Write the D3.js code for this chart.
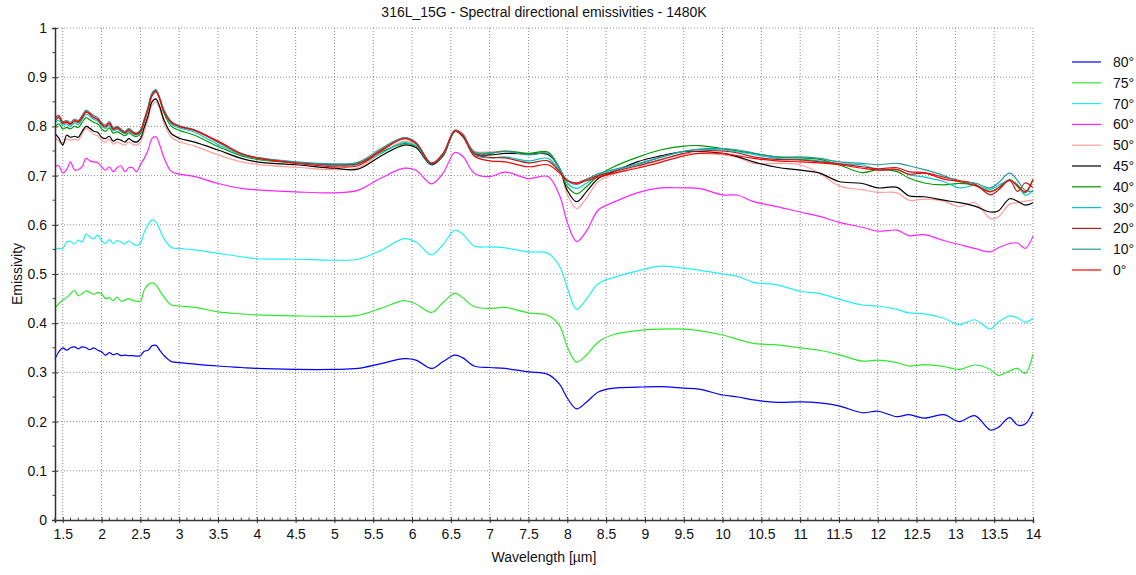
<!DOCTYPE html>
<html><head><meta charset="utf-8">
<script src="https://cdn.jsdelivr.net/npm/d3@7"></script>
<style>
body{margin:0;background:#fff;}
text{font-family:"Liberation Sans",Arial,sans-serif;fill:#111;}
</style></head>
<body><svg id="c" width="1136" height="575"></svg>
<script>
const title = "316L_15G - Spectral directional emissivities - 1480K";
const xLabel = "Wavelength [µm]";
const yLabel = "Emissivity";
const xTicks = [1.5,2,2.5,3,3.5,4,4.5,5,5.5,6,6.5,7,7.5,8,8.5,9,9.5,10,10.5,11,11.5,12,12.5,13,13.5,14];
const yTicks = [0,0.1,0.2,0.3,0.4,0.5,0.6,0.7,0.8,0.9,1];

const wavelength = [1.40,1.45,1.50,1.55,1.60,1.65,1.70,1.75,1.80,1.85,1.90,1.95,2.00,2.05,2.10,2.15,2.20,2.25,2.30,2.35,2.40,2.45,2.50,2.55,2.60,2.65,2.70,2.75,2.80,2.90,3.00,3.20,3.50,3.80,4.00,4.50,5.00,5.30,5.60,5.90,6.05,6.25,6.40,6.55,6.65,6.80,7.00,7.20,7.50,7.75,7.90,8.00,8.12,8.25,8.40,8.60,8.90,9.20,9.50,9.70,10.00,10.20,10.40,10.70,11.00,11.25,11.50,11.80,12.00,12.25,12.40,12.60,12.85,13.05,13.25,13.45,13.55,13.70,13.80,13.90,14.00];

const e80 = [0.327,0.342,0.350,0.345,0.350,0.352,0.348,0.352,0.350,0.346,0.350,0.345,0.342,0.335,0.340,0.336,0.338,0.334,0.335,0.334,0.334,0.333,0.334,0.343,0.345,0.354,0.355,0.345,0.335,0.322,0.320,0.317,0.313,0.310,0.308,0.306,0.306,0.308,0.318,0.328,0.325,0.308,0.322,0.335,0.330,0.313,0.310,0.308,0.301,0.296,0.276,0.248,0.226,0.240,0.260,0.268,0.270,0.271,0.268,0.266,0.254,0.250,0.244,0.239,0.240,0.238,0.232,0.218,0.221,0.210,0.214,0.207,0.214,0.200,0.212,0.183,0.188,0.208,0.193,0.195,0.220];
const e75 = [0.430,0.440,0.447,0.452,0.460,0.467,0.456,0.460,0.466,0.462,0.459,0.462,0.460,0.450,0.452,0.446,0.453,0.445,0.447,0.450,0.446,0.445,0.444,0.468,0.478,0.482,0.478,0.466,0.454,0.437,0.435,0.432,0.423,0.419,0.417,0.415,0.414,0.416,0.430,0.446,0.439,0.422,0.442,0.461,0.452,0.434,0.430,0.432,0.421,0.416,0.395,0.352,0.321,0.336,0.362,0.377,0.385,0.388,0.388,0.385,0.376,0.367,0.359,0.356,0.350,0.345,0.336,0.323,0.325,0.320,0.313,0.316,0.312,0.306,0.315,0.306,0.294,0.303,0.308,0.298,0.337];
const e70 = [0.550,0.552,0.552,0.565,0.566,0.561,0.569,0.565,0.581,0.575,0.572,0.579,0.568,0.562,0.570,0.562,0.568,0.565,0.561,0.567,0.562,0.558,0.563,0.585,0.600,0.610,0.606,0.590,0.573,0.554,0.552,0.549,0.542,0.535,0.531,0.530,0.528,0.530,0.548,0.572,0.565,0.539,0.560,0.589,0.582,0.557,0.555,0.553,0.545,0.542,0.516,0.472,0.428,0.450,0.480,0.493,0.506,0.516,0.512,0.508,0.500,0.495,0.483,0.478,0.465,0.460,0.449,0.437,0.435,0.428,0.421,0.419,0.410,0.397,0.407,0.388,0.402,0.415,0.411,0.402,0.410];
const e60 = [0.718,0.720,0.705,0.712,0.728,0.712,0.712,0.718,0.735,0.730,0.728,0.726,0.718,0.711,0.718,0.708,0.716,0.720,0.708,0.716,0.716,0.708,0.722,0.735,0.752,0.775,0.779,0.762,0.738,0.708,0.703,0.698,0.684,0.674,0.671,0.667,0.665,0.670,0.695,0.715,0.711,0.683,0.705,0.747,0.740,0.705,0.698,0.707,0.694,0.698,0.660,0.605,0.566,0.588,0.630,0.646,0.665,0.675,0.675,0.674,0.661,0.660,0.647,0.637,0.626,0.617,0.605,0.595,0.587,0.589,0.578,0.580,0.568,0.560,0.552,0.545,0.553,0.562,0.563,0.552,0.577];
const e50 = [0.777,0.770,0.765,0.775,0.772,0.774,0.772,0.785,0.796,0.790,0.784,0.781,0.772,0.768,0.774,0.764,0.768,0.765,0.762,0.768,0.764,0.762,0.768,0.790,0.815,0.843,0.850,0.835,0.808,0.778,0.769,0.760,0.742,0.728,0.723,0.717,0.712,0.716,0.745,0.770,0.764,0.724,0.742,0.793,0.786,0.750,0.748,0.750,0.745,0.745,0.712,0.662,0.633,0.655,0.688,0.703,0.718,0.733,0.744,0.745,0.742,0.737,0.725,0.725,0.722,0.705,0.679,0.671,0.666,0.665,0.650,0.652,0.648,0.637,0.645,0.613,0.616,0.642,0.645,0.648,0.650];
const e45 = [0.786,0.776,0.762,0.782,0.778,0.780,0.778,0.790,0.800,0.796,0.790,0.788,0.778,0.775,0.780,0.770,0.774,0.772,0.768,0.775,0.770,0.768,0.775,0.798,0.822,0.850,0.856,0.840,0.815,0.785,0.776,0.768,0.752,0.735,0.728,0.722,0.715,0.713,0.740,0.762,0.757,0.722,0.740,0.790,0.780,0.745,0.742,0.745,0.744,0.743,0.715,0.670,0.647,0.668,0.694,0.708,0.728,0.740,0.749,0.749,0.745,0.738,0.728,0.717,0.711,0.705,0.688,0.684,0.675,0.676,0.659,0.657,0.650,0.645,0.638,0.626,0.628,0.653,0.648,0.640,0.645];
const e40 = [0.800,0.805,0.795,0.798,0.795,0.800,0.798,0.808,0.818,0.813,0.808,0.805,0.795,0.790,0.797,0.786,0.789,0.785,0.781,0.787,0.782,0.779,0.785,0.808,0.835,0.865,0.872,0.855,0.828,0.800,0.792,0.782,0.759,0.740,0.733,0.726,0.722,0.725,0.748,0.765,0.760,0.725,0.742,0.790,0.783,0.748,0.746,0.750,0.745,0.748,0.715,0.678,0.663,0.678,0.700,0.718,0.737,0.752,0.760,0.761,0.755,0.750,0.745,0.738,0.736,0.733,0.722,0.706,0.712,0.708,0.695,0.685,0.681,0.684,0.680,0.668,0.675,0.692,0.678,0.665,0.692];
const e30 = [0.808,0.812,0.802,0.805,0.800,0.807,0.804,0.814,0.825,0.820,0.814,0.811,0.801,0.796,0.803,0.791,0.794,0.789,0.785,0.790,0.785,0.782,0.788,0.810,0.837,0.865,0.872,0.856,0.831,0.805,0.797,0.788,0.763,0.742,0.735,0.726,0.720,0.722,0.745,0.767,0.761,0.724,0.742,0.790,0.782,0.742,0.736,0.738,0.730,0.735,0.710,0.685,0.674,0.685,0.700,0.710,0.722,0.737,0.750,0.753,0.752,0.748,0.743,0.735,0.733,0.730,0.724,0.722,0.712,0.712,0.702,0.697,0.688,0.675,0.680,0.672,0.680,0.690,0.682,0.660,0.670];
const e20 = [0.812,0.818,0.806,0.808,0.804,0.811,0.808,0.818,0.829,0.824,0.818,0.814,0.804,0.799,0.806,0.794,0.797,0.792,0.787,0.793,0.787,0.784,0.790,0.812,0.838,0.866,0.873,0.857,0.833,0.808,0.800,0.792,0.768,0.744,0.736,0.727,0.722,0.724,0.752,0.776,0.767,0.725,0.744,0.791,0.783,0.745,0.737,0.736,0.726,0.730,0.708,0.690,0.685,0.693,0.700,0.708,0.720,0.732,0.745,0.750,0.750,0.746,0.738,0.733,0.732,0.728,0.724,0.718,0.714,0.716,0.708,0.706,0.697,0.690,0.683,0.661,0.670,0.690,0.668,0.685,0.675];
const e10 = [0.815,0.820,0.810,0.812,0.808,0.815,0.812,0.822,0.833,0.828,0.822,0.818,0.808,0.803,0.810,0.798,0.800,0.795,0.790,0.796,0.790,0.787,0.793,0.815,0.840,0.868,0.875,0.858,0.835,0.810,0.801,0.793,0.769,0.745,0.737,0.728,0.724,0.727,0.755,0.777,0.768,0.725,0.745,0.792,0.784,0.748,0.745,0.749,0.742,0.745,0.715,0.690,0.682,0.692,0.704,0.712,0.724,0.737,0.749,0.754,0.755,0.752,0.746,0.738,0.738,0.735,0.728,0.725,0.722,0.725,0.720,0.712,0.700,0.688,0.685,0.675,0.685,0.705,0.690,0.670,0.668];
const e0 = [0.818,0.822,0.808,0.810,0.805,0.812,0.810,0.820,0.830,0.826,0.818,0.815,0.805,0.800,0.807,0.795,0.798,0.792,0.788,0.793,0.788,0.785,0.790,0.812,0.836,0.862,0.870,0.855,0.832,0.808,0.800,0.792,0.770,0.745,0.736,0.725,0.718,0.720,0.750,0.775,0.765,0.725,0.745,0.790,0.782,0.740,0.730,0.728,0.718,0.722,0.705,0.690,0.684,0.690,0.697,0.705,0.715,0.727,0.740,0.745,0.745,0.740,0.735,0.730,0.728,0.726,0.722,0.715,0.711,0.712,0.703,0.705,0.693,0.688,0.680,0.667,0.675,0.690,0.680,0.667,0.692];

const seriesNames = ["80°","75°","70°","60°","50°","45°","40°","30°","20°","10°","0°"];
const seriesValues = [e80,e75,e70,e60,e50,e45,e40,e30,e20,e10,e0];
const seriesColors = ["#0000ff","#2fe82f","#22f0f0","#ff22ff","#ff9c9c","#000000","#009a00","#00c8c8","#b02020","#2a9898","#ff0000"];

const svg = d3.select("#c");
const m = {l:55, r:1033, t:28, b:520};
const x = d3.scaleLinear().domain([1.4,14]).range([m.l,m.r]);
const y = d3.scaleLinear().domain([0,1]).range([m.b,m.t]);

// grid
const g = svg.append("g");
g.selectAll(".gx").data(xTicks).enter().append("line")
  .attr("x1",d=>x(d)).attr("x2",d=>x(d)).attr("y1",m.t).attr("y2",m.b)
  .attr("stroke","#8a8a8a").attr("stroke-width",1).attr("stroke-dasharray","1,2");
g.selectAll(".gy").data(yTicks.filter(d=>d>0)).enter().append("line")
  .attr("x1",m.l).attr("x2",m.r).attr("y1",d=>y(d)).attr("y2",d=>y(d))
  .attr("stroke","#8a8a8a").attr("stroke-width",1).attr("stroke-dasharray","1,2");

// lines
const line = d3.line().curve(d3.curveCatmullRom.alpha(0.5));
seriesValues.forEach((vals,i)=>{
  svg.append("path")
    .attr("d", line(wavelength.map((w,j)=>[x(w), y(vals[j])])))
    .attr("fill","none").attr("stroke",seriesColors[i]).attr("stroke-width",1.2);
});

// axes
const xAxis = d3.axisBottom(x).tickValues(xTicks).tickSize(3).tickPadding(6).tickFormat(d=>d);
const gx = svg.append("g").attr("transform",`translate(0,${m.b})`).call(xAxis);
gx.select(".domain").attr("stroke","#333").attr("stroke-width",1.5);
gx.selectAll(".tick line").attr("y1",-3).attr("stroke","#333");
gx.selectAll(".tick text").attr("font-size",14).attr("font-family","Liberation Sans, Arial").attr("fill","#111");
const minorX = d3.range(14,141).map(d=>d/10).filter(d=>Math.abs(d*2-Math.round(d*2))>1e-6);
svg.append("g").selectAll("line").data(minorX).enter().append("line")
  .attr("x1",d=>x(d)).attr("x2",d=>x(d)).attr("y1",m.b-2.5).attr("y2",m.b)
  .attr("stroke","#444").attr("stroke-width",1);

const yAxis = d3.axisLeft(y).tickValues(yTicks).tickSize(3).tickPadding(5).tickFormat(d=>d);
const gy = svg.append("g").attr("transform",`translate(${m.l},0)`).call(yAxis);
gy.select(".domain").attr("stroke","#333").attr("stroke-width",1.5);
gy.selectAll(".tick line").attr("x1",3).attr("stroke","#333");
gy.selectAll(".tick text").attr("font-size",14).attr("font-family","Liberation Sans, Arial").attr("fill","#111");
const minorY = d3.range(1,20,2).map(d=>d/20);
svg.append("g").selectAll("line").data(minorY).enter().append("line")
  .attr("x1",m.l-2.5).attr("x2",m.l).attr("y1",d=>y(d)).attr("y2",d=>y(d))
  .attr("stroke","#444").attr("stroke-width",1);

// labels
svg.append("text").attr("x",(m.l+m.r)/2).attr("y",17).attr("text-anchor","middle").attr("font-size",14).text(title);
svg.append("text").attr("x",(m.l+m.r)/2).attr("y",562).attr("text-anchor","middle").attr("font-size",14).text(xLabel);
svg.append("text").attr("transform","translate(22,274) rotate(-90)").attr("text-anchor","middle").attr("font-size",14).text(yLabel);

// legend
const lg = svg.append("g");
seriesNames.forEach((n,i)=>{
  const yy = 62 + i*20.8;
  lg.append("line").attr("x1",1072).attr("x2",1101).attr("y1",yy).attr("y2",yy)
    .attr("stroke",seriesColors[i]).attr("stroke-width",1.2);
  lg.append("text").attr("x",1113).attr("y",yy+5).attr("font-size",14).text(n);
});
</script></body></html>
